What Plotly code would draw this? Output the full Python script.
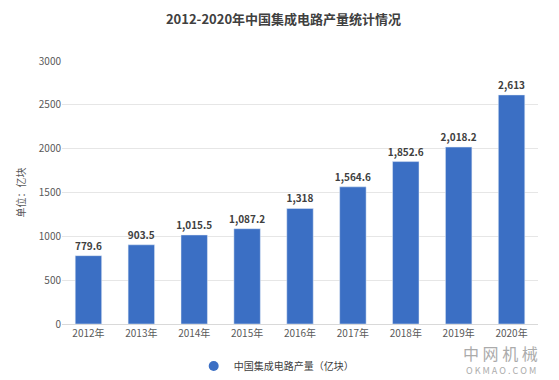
import plotly.graph_objects as go

years = ["2012年", "2013年", "2014年", "2015年", "2016年", "2017年", "2018年", "2019年", "2020年"]
values = [779.6, 903.5, 1015.5, 1087.2, 1318, 1564.6, 1852.6, 2018.2, 2613]
labels = ["779.6", "903.5", "1,015.5", "1,087.2", "1,318", "1,564.6", "1,852.6", "2,018.2", "2,613"]
series_name = "中国集成电路产量（亿块）"

font = "Noto Sans CJK SC"
color = "#3b6fc4"

fig = go.Figure()
fig.add_trace(go.Bar(
    x=years, y=values, text=["<b>%s</b>" % t for t in labels], textposition="outside",
    constraintext="none",
    textfont=dict(size=10, color="#404040", family=font),
    marker=dict(color=color), width=0.5, showlegend=False, cliponaxis=False,
))
fig.add_trace(go.Scatter(
    x=[None], y=[None], mode="markers", name=series_name,
    marker=dict(symbol="circle", size=10, color=color),
))
fig.update_layout(
    width=551, height=372,
    margin=dict(l=54, r=21, t=53, b=56, autoexpand=False),
    paper_bgcolor="white", plot_bgcolor="white",
    font=dict(family=font, size=10, color="#595959"),
    title=dict(text="<b>2012-2020年中国集成电路产量统计情况</b>", x=0.5, xanchor="center",
               y=0.97, yanchor="middle", font=dict(size=13, color="#404040", family=font)),
    legend=dict(orientation="h", x=0.45, xanchor="center", y=-0.16, yanchor="middle",
                font=dict(size=10, color="#404040")),
    bargap=0.5,
)
fig.update_xaxes(showline=True, linecolor="#d9d9d9", ticks="", automargin=False,
                 tickfont=dict(size=10, color="#595959"))
fig.update_yaxes(range=[0, 3000], dtick=500, showgrid=True, gridcolor="#e6e6e6", zeroline=False,
                 automargin=False, tickfont=dict(size=10, color="#595959"),
                 title=dict(text="单位：亿块", font=dict(size=10, color="#595959"), standoff=11))
fig.add_annotation(text="中 网 机 械", xref="paper", yref="paper", x=1.004, y=-0.112,
                   xanchor="right", yanchor="middle", showarrow=False,
                   font=dict(size=16, color="#ababab", family=font))
fig.add_annotation(text="O K M A O . C O M", xref="paper", yref="paper", x=1.0, y=-0.178,
                   xanchor="right", yanchor="middle", showarrow=False,
                   font=dict(size=9, color="#ababab", family=font))
fig.write_html("out.html")
